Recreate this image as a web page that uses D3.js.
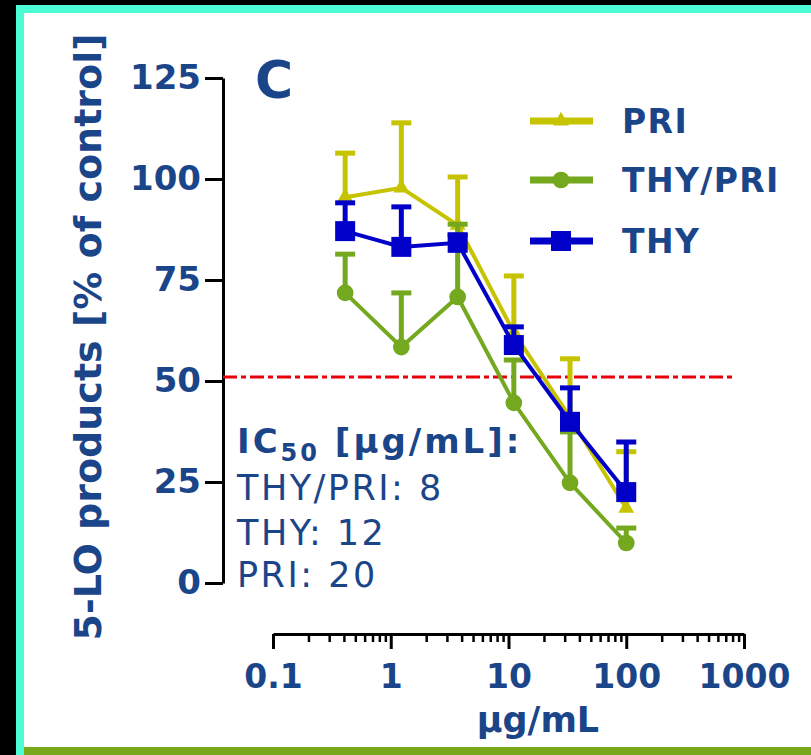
<!DOCTYPE html>
<html><head><meta charset="utf-8">
<script src="https://cdn.jsdelivr.net/npm/d3@7"></script>
<style>body{margin:0;background:#000;} svg{display:block}</style>
</head><body>
<svg id="c" width="811" height="755"></svg>
<script>
// ---- data ----
const concentrations = [0.41, 1.23, 3.7, 11.1, 33.3, 100];
const seriesNames = ["PRI", "THY/PRI", "THY"];
const priMean = [95.5, 97.8, 88.6, 62, 41, 18.5];
const priErr = [10.9, 16.1, 11.9, 14, 14.5, 14];
const thyPriMean = [71.8, 58.4, 70.8, 44.6, 24.8, 9.9];
const thyPriErr = [9.6, 13.4, 18, 10.6, 12.6, 3.7];
const thyMean = [87.1, 83.2, 84.2, 58.9, 39.9, 22.5];
const thyErr = [7, 9.9, 2, 4.5, 8.4, 12.4];
const yTicks = [0, 25, 50, 75, 100, 125];
const xTicks = [0.1, 1, 10, 100, 1000];
const xTickLabels = ["0.1", "1", "10", "100", "1000"];
const ic50Names = ["THY/PRI", "THY", "PRI"];
const ic50Values = [8, 12, 20];
const refLine = 51;

// ---- styles ----
const navy = "#1b4589";
const colors = {"PRI": "#c6c400", "THY/PRI": "#74a81e", "THY": "#0000c8"};
const shapes = {"PRI": d3.symbolTriangle, "THY/PRI": d3.symbolCircle, "THY": d3.symbolSquare};
const sizes = {"PRI": 110, "THY/PRI": 220, "THY": 400};
const series = [
  {name: "PRI", mean: priMean, err: priErr},
  {name: "THY/PRI", mean: thyPriMean, err: thyPriErr},
  {name: "THY", mean: thyMean, err: thyErr}
];

const svg = d3.select("#c");
// frame
svg.append("rect").attr("x",0).attr("y",0).attr("width",811).attr("height",755).attr("fill","#000");
svg.append("rect").attr("x",16).attr("y",5).attr("width",795).attr("height",750).attr("fill","#4dfdd5");
svg.append("rect").attr("x",24).attr("y",13).attr("width",787).attr("height",742).attr("fill","#fff");
svg.append("rect").attr("x",24).attr("y",747).attr("width",787).attr("height",8).attr("fill","#78a91d");

const x = d3.scaleLog().domain([0.1, 1000]).range([273, 744]);
const y = d3.scaleLinear().domain([0, 125]).range([583, 78]);

const font = "'DejaVu Sans', Verdana, sans-serif";

// y axis
const yAxis = svg.append("g").attr("transform","translate(223,0)")
  .call(d3.axisLeft(y).tickValues(yTicks).tickSize(18).tickSizeOuter(0).tickPadding(4));
yAxis.select(".domain").attr("stroke","#000").attr("stroke-width",3);
yAxis.selectAll(".tick line").attr("stroke","#000").attr("stroke-width",3);
yAxis.selectAll(".tick text").attr("fill",navy).attr("font-family",font).attr("font-weight","bold").attr("font-size",34);

// x axis
const minorVals = [];
[0.1,1,10,100].forEach(d => { for (let k=2;k<10;k++) minorVals.push(d*k); });
const xMinor = svg.append("g").attr("transform","translate(0,634)")
  .call(d3.axisBottom(x).tickValues(minorVals).tickSize(8).tickSizeOuter(0).tickFormat(""));
xMinor.select(".domain").remove();
xMinor.selectAll(".tick line").attr("stroke","#000").attr("stroke-width",2.5);
const xAxis = svg.append("g").attr("transform","translate(0,634)")
  .call(d3.axisBottom(x).tickValues(xTicks).tickSize(15).tickSizeOuter(0).tickPadding(16)
    .tickFormat((d,i) => xTickLabels[i]));
xAxis.select(".domain").attr("stroke","#000").attr("stroke-width",3);
xAxis.selectAll(".tick line").attr("stroke","#000").attr("stroke-width",3);
xAxis.selectAll(".tick text").attr("fill",navy).attr("font-family",font).attr("font-weight","bold").attr("font-size",33);

// axis titles
svg.append("text").attr("transform","translate(101,337) rotate(-90)").attr("text-anchor","middle")
  .attr("fill",navy).attr("font-family",font).attr("font-weight","bold").attr("font-size",38)
  .text("5-LO products [% of control]");
svg.append("text").attr("x",538).attr("y",732).attr("text-anchor","middle")
  .attr("fill",navy).attr("font-family",font).attr("font-weight","bold").attr("font-size",35)
  .text("µg/mL");
svg.append("text").attr("x",255).attr("y",98)
  .attr("fill",navy).attr("font-family",font).attr("font-weight","bold").attr("font-size",52)
  .text("C");

// reference line
svg.append("line").attr("x1",223).attr("x2",735).attr("y1",y(refLine)).attr("y2",y(refLine))
  .attr("stroke","#e8000c").attr("stroke-width",3).attr("stroke-dasharray","14,4,5,4");

// series
const line = d3.line().x(d => x(d[0])).y(d => y(d[1]));
series.forEach(s => {
  const c = colors[s.name];
  const pts = concentrations.map((v,i) => [v, s.mean[i], s.err[i]]);
  const g = svg.append("g");
  g.append("path").datum(pts).attr("d", line).attr("fill","none").attr("stroke",c).attr("stroke-width",4);
  g.selectAll(".eb").data(pts).join("line")
    .attr("x1",d=>x(d[0])).attr("x2",d=>x(d[0])).attr("y1",d=>y(d[1])).attr("y2",d=>y(d[1]+d[2]))
    .attr("stroke",c).attr("stroke-width",5);
  g.selectAll(".cap").data(pts).join("line")
    .attr("x1",d=>x(d[0])-10).attr("x2",d=>x(d[0])+10).attr("y1",d=>y(d[1]+d[2])).attr("y2",d=>y(d[1]+d[2]))
    .attr("stroke",c).attr("stroke-width",5);
  g.selectAll(".mk").data(pts).join("path")
    .attr("transform",d=>`translate(${x(d[0])},${y(d[1])})`)
    .attr("d", d3.symbol(shapes[s.name]).size(sizes[s.name])())
    .attr("fill",c);
});

// legend
const legendY = [121, 180, 241];
seriesNames.forEach((n,i) => {
  const g = svg.append("g").attr("transform",`translate(0,${legendY[i]})`);
  g.append("line").attr("x1",530).attr("x2",593).attr("y1",0).attr("y2",0).attr("stroke",colors[n]).attr("stroke-width",7);
  g.append("path").attr("transform","translate(561,0)").attr("d", d3.symbol(shapes[n]).size(sizes[n])()).attr("fill",colors[n]);
  g.append("text").attr("x",622).attr("y",12).attr("fill",navy).attr("font-family",font).attr("font-weight","bold")
    .attr("font-size",33).attr("letter-spacing",1.4).text(n);
});

// IC50 annotation
const ic = svg.append("text").attr("x",237).attr("y",453).attr("fill",navy).attr("font-family",font)
  .attr("font-weight","bold").attr("font-size",34).attr("letter-spacing",3);
ic.append("tspan").text("IC");
ic.append("tspan").attr("font-size",24).attr("dy",8).text("50");
ic.append("tspan").attr("dy",-8).text(" [µg/mL]:");
const icBase = [500, 545, 587];
ic50Names.forEach((n,i) => {
  svg.append("text").attr("x",237).attr("y",icBase[i]).attr("fill",navy).attr("font-family",font)
    .attr("font-size",35).attr("letter-spacing",2.5).text(`${n}: ${ic50Values[i]}`);
});
</script>
</body></html>
